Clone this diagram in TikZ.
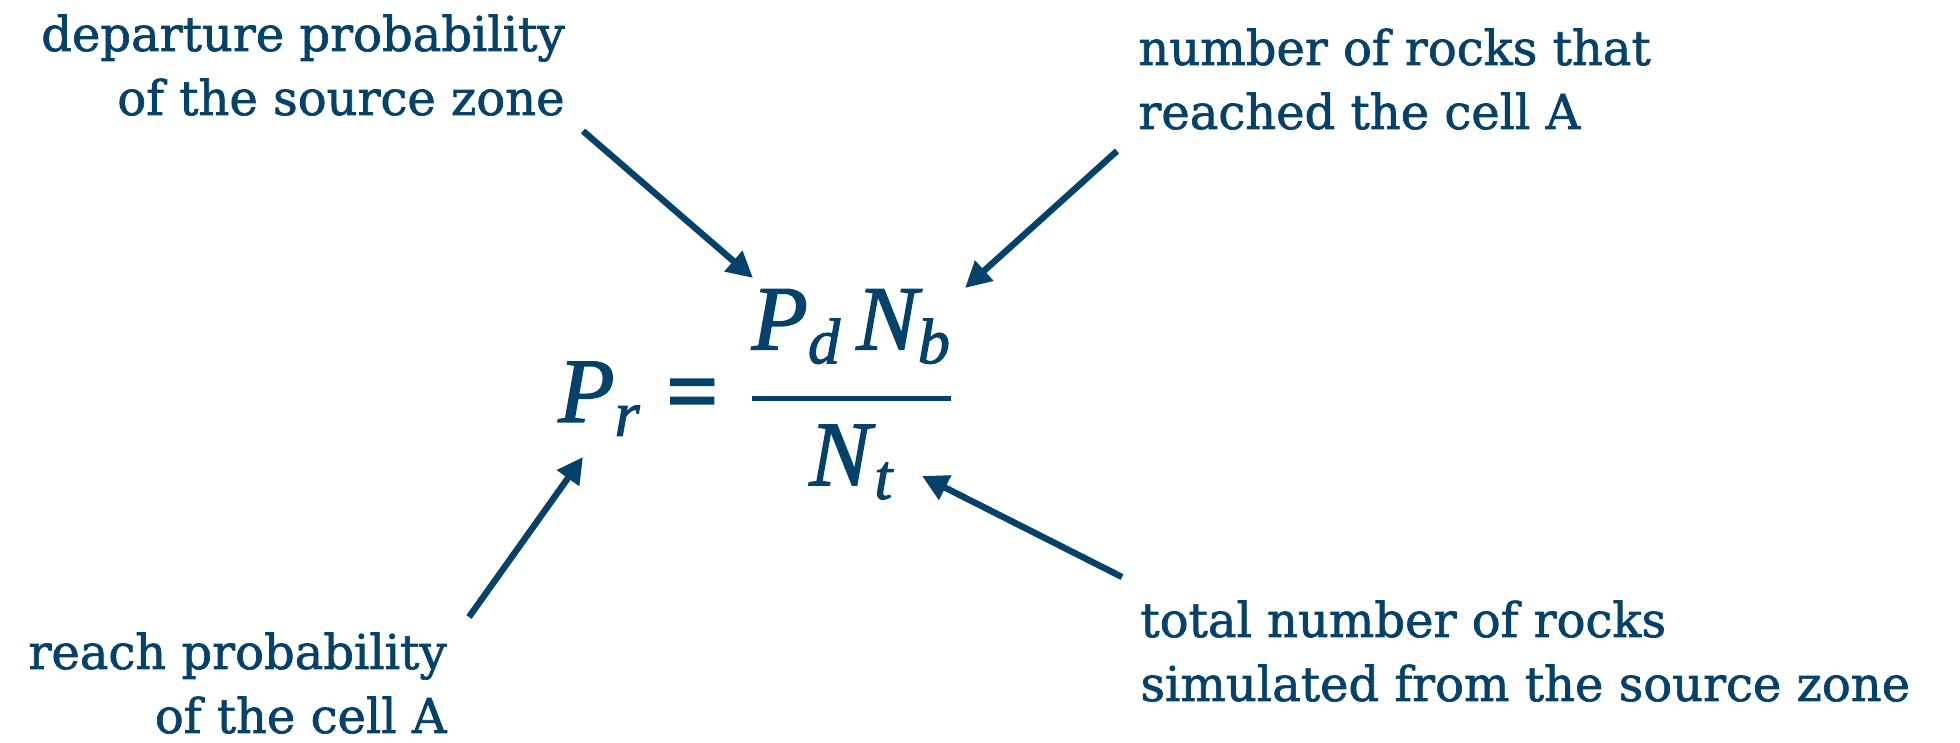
\RequirePackage{fix-cm}
\documentclass[tikz,border=0pt]{standalone}
\usepackage{amsmath}
\usepackage{fontspec}
\setmainfont{DejaVu Serif}[FakeBold=1.4]
\newfontfamily\formulafont{Liberation Serif}[FakeBold=1.6]
\usepackage{tikz}
\usetikzlibrary{arrows.meta}
\definecolor{inkblue}{RGB}{5,66,107}
\newcommand{\fv}[1]{\text{\formulafont\itshape #1}}

\begin{document}
\begin{tikzpicture}[x=0.5pt,y=0.5pt,>={Triangle[length=13pt,width=13pt]},
  lbl/.style={inner sep=0pt,text=inkblue,font=\fontsize{24}{32}\selectfont},
  arr/.style={->,draw=inkblue,line width=3.2pt}]
  \useasboundingbox (0,0) rectangle (1960,743);
  \node[lbl,align=right,anchor=base east] (dep) at (565,628) {departure probability\\of the source zone};
  \node[lbl,align=left,anchor=base west] (nb) at (1138,614) {number of rocks that\\reached the cell A};
  \node[lbl,align=right,anchor=base east] (reach) at (447,10) {reach probability\\of the cell A};
  \node[lbl,align=left,anchor=base west] (tot) at (1140,42) {total number of rocks\\simulated from the source zone};

  \node[inner sep=0pt,text=inkblue,anchor=base west,font=\fontsize{46}{52}\selectfont] (eq) at (558,321)
    {$\fv{P}_{\fv{r}} \mathrel{\text{\formulafont\bfseries =}}\mkern1mu
      \genfrac{}{}{2.5pt}{0}{\fv{P}_{\fv{d}}\mkern3mu\fv{N}_{\fv{b}}\rule[-16pt]{0pt}{1pt}}{\fv{N}_{\mkern1mu\fv{t}}}$};

  \coordinate (pd) at (753,465);
  \coordinate (nbtip) at (965,455);
  \coordinate (pr) at (583,286);
  \coordinate (nt) at (922,267);
  \coordinate (depst) at (583,612);
  \coordinate (nbst) at (1117,592);
  \coordinate (reachst) at (469,126);
  \coordinate (totst) at (1122,166);

  \draw[arr] (depst) -- (pd);
  \draw[arr] (nbst) -- (nbtip);
  \draw[arr] (reachst) -- (pr);
  \draw[arr] (totst) -- (nt);
\end{tikzpicture}
\end{document}
